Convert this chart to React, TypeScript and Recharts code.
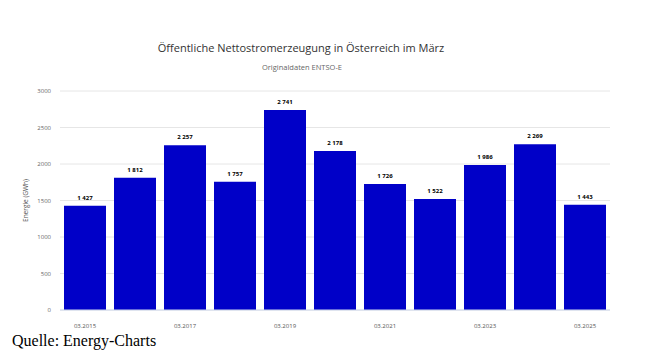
import React from 'react';
import { BarChart, Bar, XAxis, YAxis, CartesianGrid, LabelList } from 'recharts';

const months = ['03.2015', '03.2016', '03.2017', '03.2018', '03.2019', '03.2020', '03.2021', '03.2022', '03.2023', '03.2024', '03.2025'];
const energy = [1427, 1812, 2257, 1757, 2741, 2178, 1726, 1522, 1986, 2269, 1443];
const yTicks = [0, 500, 1000, 1500, 2000, 2500, 3000];

const data = months.map((m, i) => ({ month: m, value: energy[i] }));

const font = '"Open Sans", "Noto Sans", sans-serif';

const fmt = (v: any) => String(v).replace(/\B(?=(\d{3})+(?!\d))/g, ' ');

const App: React.FC = () => {
  return (
    <div style={{ position: 'absolute', left: 0, top: 0, width: 659, height: 357, background: '#fff' }}>
      <div style={{ position: 'absolute', left: 0, width: 602, top: 40, textAlign: 'center', fontFamily: font, fontSize: 11, color: '#333' }}>
        Öffentliche Nettostromerzeugung in Österreich im März
      </div>
      <div style={{ position: 'absolute', left: 0, width: 604, top: 62, textAlign: 'center', fontFamily: font, fontSize: 7.5, color: '#666' }}>
        Originaldaten ENTSO-E
      </div>
      <BarChart
        width={659}
        height={357}
        data={data}
        margin={{ top: 91, right: 49, left: 20, bottom: 27 }}
        barCategoryGap={4}
      >
        <CartesianGrid vertical={false} stroke="#e6e6e6" />
        <XAxis
          dataKey="month"
          interval={1}
          tickLine={false}
          axisLine={{ stroke: '#ccd6eb' }}
          tick={{ fontSize: 6, fill: '#555', fontFamily: font }}
          tickMargin={8}
          height={20}
        />
        <YAxis
          domain={[0, 3000]}
          ticks={yTicks}
          width={40}
          axisLine={false}
          tickLine={false}
          tickSize={0}
          tickMargin={9}
          tick={{ fontSize: 6, fill: '#666', fontFamily: font }}
          label={{ value: 'Energie (GWh)', angle: -90, position: 'insideLeft', offset: 6, style: { fontSize: 6.5, fill: '#555', fontFamily: font, textAnchor: 'middle' } }}
        />
        <Bar dataKey="value" fill="#0000c8" isAnimationActive={false}>
          <LabelList dataKey="value" position="top" offset={6} formatter={fmt} style={{ fontSize: 6, fill: '#000', fontWeight: 'bold', fontFamily: font }} />
        </Bar>
      </BarChart>
      <div style={{ position: 'absolute', left: 12, top: 332, fontFamily: 'serif', fontSize: 16, color: '#000' }}>
        Quelle: Energy-Charts
      </div>
    </div>
  );
};

export default App;
